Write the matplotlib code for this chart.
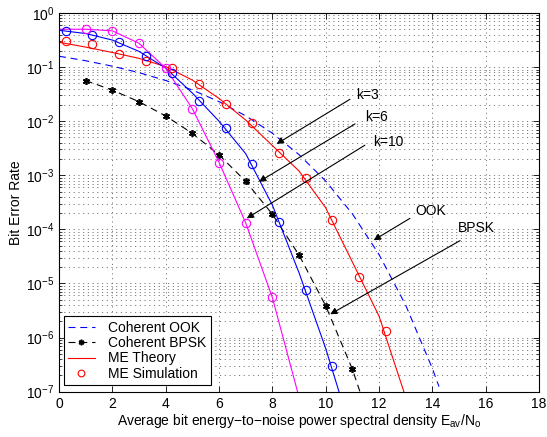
import matplotlib
matplotlib.use('Agg')
import matplotlib.pyplot as plt
import numpy as np

plt.rcParams['font.family'] = ['Liberation Sans', 'DejaVu Sans']
plt.rcParams['font.size'] = 10
plt.rcParams['lines.scale_dashes'] = False

# coherent OOK (blue dashed)
ook_x = [0, 1, 2, 3, 4, 5, 6, 7, 8, 9, 10, 11, 12, 13, 14, 14.25]
ook_y = [0.1587, 0.1309, 0.1040, 0.0789, 0.0565, 0.0377, 0.0230, 0.01258, 0.0060,
         0.00241, 7.83e-4, 1.94e-4, 3.43e-5, 3.97e-6, 2.69e-7, 1.24e-7]

# coherent BPSK (black dashed with stars)
bpsk_x = [1, 2, 3, 4, 5, 6, 7, 8, 9, 10, 11, 12]
bpsk_y = [0.0563, 0.0375, 0.0229, 0.0125, 0.00595, 0.00239, 7.73e-4, 1.91e-4,
          3.36e-5, 3.87e-6, 2.61e-7, 9e-9]

# ME theory, k=3 / k=6 / k=10
th3_x = [0, 1, 2, 3, 4, 5, 6, 7, 8, 9, 10, 11, 12, 13]
th3_y = [0.288, 0.234, 0.186, 0.145, 0.102, 0.0575, 0.0263, 0.0105, 0.00355,
         0.0012, 2.5e-4, 2.5e-5, 2.5e-6, 7.9e-8]
th6_x = [0, 1, 2, 3, 4, 5, 6, 7, 8, 9, 10, 11]
th6_y = [0.479, 0.417, 0.316, 0.195, 0.0955, 0.0331, 0.01, 0.00251, 2.82e-4,
         1.58e-5, 6.3e-7, 1.58e-8]
th10_x = [0, 1, 2, 3, 4, 5, 6, 7, 8, 9]
th10_y = [0.501, 0.501, 0.468, 0.275, 0.0955, 0.017, 0.00174, 1.32e-4, 5.5e-6, 7.9e-8]

# ME simulation
sim3_x = [0.25, 1.25, 2.25, 3.25, 4.25, 5.25, 6.25, 7.25, 8.25, 9.25, 10.25, 11.25, 12.25]
sim3_y = [0.308, 0.267, 0.175, 0.131, 0.095, 0.048, 0.0205, 0.0093, 0.0026,
          8.8e-4, 1.5e-4, 1.34e-5, 1.32e-6]
sim6_x = [0.25, 1.25, 2.25, 3.25, 4.25, 5.25, 6.25, 7.25, 8.25, 9.25, 10.22]
sim6_y = [0.465, 0.392, 0.287, 0.163, 0.0767, 0.0236, 0.0074, 0.00162, 1.35e-4,
          7.6e-6, 3.0e-7]
sim10_x = [1, 2, 3, 4, 5, 6, 7, 8]
sim10_y = [0.50, 0.465, 0.275, 0.095, 0.0168, 0.0017, 1.33e-4, 5.6e-6]

fig = plt.figure(figsize=(5.47, 4.37), dpi=100)
ax = fig.add_axes([0.1079, 0.1037, 0.8775, 0.8666])

mag = '#ff00ff'
lw = 0.8
l_ook, = ax.semilogy(ook_x, ook_y, color='b', lw=lw, dashes=(5, 3.5))
l_bpsk, = ax.semilogy(bpsk_x, bpsk_y, color='k', lw=lw, dashes=(5, 3.5),
                      marker=(6, 2, 0), ms=5, mec='k', mew=1.2)
l_th, = ax.semilogy(th3_x, th3_y, color='r', lw=lw)
ax.semilogy(th6_x, th6_y, color='b', lw=lw)
ax.semilogy(th10_x, th10_y, color=mag, lw=lw)
l_sim, = ax.semilogy(sim3_x, sim3_y, 'o', color='r', mfc='none', ms=6, mew=0.8)
ax.semilogy(sim6_x, sim6_y, 'o', color='b', mfc='none', ms=6, mew=0.8)
ax.semilogy(sim10_x, sim10_y, 'o', color=mag, mfc='none', ms=6, mew=0.8)

ax.set_xlim(0, 18)
ax.set_ylim(1e-7, 1)
ax.set_xticks(np.arange(0, 19, 2))
ax.set_yticks([10.0 ** e for e in range(-7, 1)])
ax.grid(True, which='major', color='0.25', lw=0.5, dashes=(0.8, 2.6))
ax.grid(True, which='minor', axis='y', color='0.25', lw=0.5, dashes=(0.8, 2.6))
ax.tick_params(which='both', direction='in', top=True, right=True)
ax.tick_params(which='major', length=4, width=0.6)
ax.tick_params(which='minor', length=2, width=0.5)
ax.tick_params(axis='x', which='minor', bottom=False, top=False)
for s in ax.spines.values():
    s.set_linewidth(0.8)

ax.set_xlabel(r'Average bit energy−to−noise power spectral density E$_{\mathregular{av}}$/N$_{\mathregular{o}}$',
              labelpad=1)
ax.set_ylabel('Bit Error Rate', labelpad=2)

arrow = dict(arrowstyle='-|>', color='k', lw=0.8, mutation_scale=10,
             shrinkA=0, shrinkB=0)
notes = [('k=3', (11.16, 0.031), (10.91, 0.0254), (8.16, 0.0038)),
         ('k=6', (11.47, 0.012), (11.1, 0.0089), (7.5, 7.6e-4)),
         ('k=10', (11.79, 0.0041), (11.47, 0.0036), (7.04, 1.6e-4)),
         ('OOK', (13.35, 2.2e-4), (13.16, 1.6e-4), (11.8, 6.3e-5)),
         ('BPSK', (14.95, 1.07e-4), (15.04, 6.2e-5), (10.17, 2.7e-6))]
for txt, tpos, tail, tip in notes:
    ax.annotate('', xy=tip, xytext=tail, arrowprops=arrow)
    ax.text(tpos[0], tpos[1], txt, ha='left', va='center')

leg = ax.legend([l_ook, l_bpsk, l_th, l_sim],
                ['Coherent OOK', 'Coherent BPSK', 'ME Theory', 'ME Simulation'],
                loc='lower left', bbox_to_anchor=(0.0104, 0.0177), borderaxespad=0,
                fancybox=False, framealpha=1, edgecolor='k', labelspacing=0.1,
                handlelength=1.9, handletextpad=1.0, borderpad=0.3, markerscale=0.8)
leg.get_frame().set_linewidth(0.8)

fig.savefig('out.png', dpi=100)
